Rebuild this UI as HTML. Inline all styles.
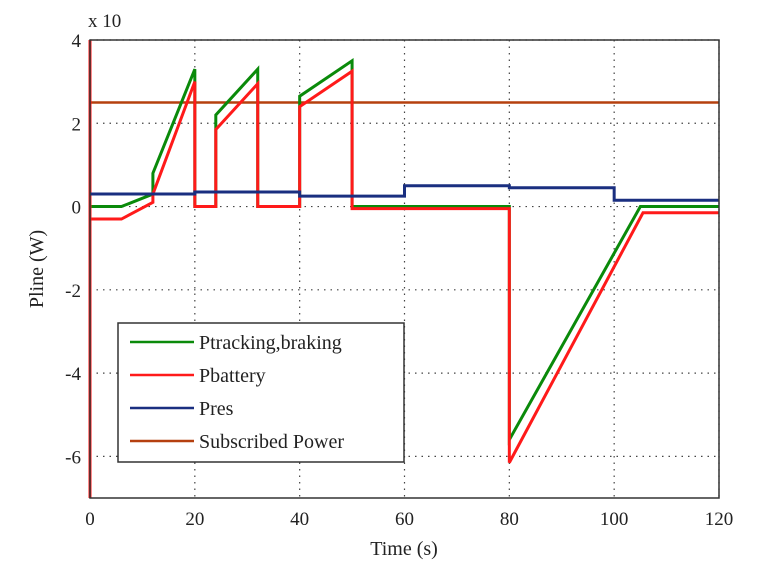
<!DOCTYPE html>
<html><head><meta charset="utf-8"><style>
body{margin:0;background:#fff;}
svg text{font-family:"Liberation Serif",serif;fill:#222;}
</style></head><body>
<svg id="c" width="759" height="572" xmlns="http://www.w3.org/2000/svg"></svg>
<script>
const xTicks=[0,20,40,60,80,100,120];
const yTicks=[4,2,0,-2,-4,-6];
const trackT=[0,6,12,12,20,20,24,24,32,32,40,40,50,50,80,80,105,120];
const trackV=[0,0,0.3,0.8,3.3,0,0,2.2,3.3,0,0,2.65,3.5,0,0,-5.6,0,0];
const battT=[0,0,0,6,12,12,20,20,24,24,32,32,40,40,50,50,80,80,105.5,120];
const battV=[4,-7,-0.3,-0.3,0.1,0.3,3.0,0,0,1.85,2.95,0,0,2.4,3.25,-0.05,-0.05,-6.15,-0.15,-0.15];
const resT=[0,20,20,40,40,60,60,80,80,100,100,120];
const resV=[0.3,0.3,0.35,0.35,0.25,0.25,0.5,0.5,0.45,0.45,0.15,0.15];
const subT=[0,120];
const subV=[2.5,2.5];
const L=90,R=719,T=40,B=498,X0=0,X1=120,Y0=-7,Y1=4;
const sx=v=>L+(v-X0)/(X1-X0)*(R-L);
const sy=v=>B-(v-Y0)/(Y1-Y0)*(B-T);
const svg=document.getElementById('c');
const NS='http://www.w3.org/2000/svg';
function mk(tag,a,p){const e=document.createElementNS(NS,tag);for(const k in a)e.setAttribute(k,a[k]);(p||svg).appendChild(e);return e;}
// grid
xTicks.forEach(t=>{
  const g=mk('line',{x1:sx(t),x2:sx(t),y1:T,y2:B,stroke:'#444','stroke-width':1.2,'stroke-dasharray':'1.5,5'});
  
  
  const tx=mk('text',{x:sx(t),y:B+27,'font-size':19,'text-anchor':'middle'});tx.textContent=t;
  
  
});
yTicks.forEach(t=>{
  const g=mk('line',{x1:L,x2:R,y1:sy(t),y2:sy(t),stroke:'#444','stroke-width':1.2,'stroke-dasharray':'1.5,5'});
  
  
  const tx=mk('text',{x:L-9,y:sy(t)+7,'font-size':19,'text-anchor':'end'});tx.textContent=t;
  
  
});
function series(ts,vs,col,name,w){
  const p=mk('polyline',{points:ts.map((t,i)=>sx(t)+','+sy(vs[i])).join(' '),fill:'none',stroke:col,'stroke-width':w,'stroke-linejoin':'miter'});
  
  
}
series(subT,subV,'#b5400f','subscribed-power-line',2.5);
series(trackT,trackV,'#0a8a0a','ptracking-line',3);
series(battT,battV,'#ff1a1a','pbattery-line',3);
series(resT,resV,'#1a2f80','pres-line',3);
const fr=mk('rect',{x:L,y:T,width:R-L,height:B-T,fill:'none',stroke:'#333','stroke-width':1.5});


// legend
const lg=mk('g',{});


mk('rect',{x:118,y:323,width:286,height:139,fill:'#fff',stroke:'#333','stroke-width':1.5},lg);
const names=['Ptracking,braking','Pbattery','Pres','Subscribed Power'];
const cols=['#0a8a0a','#ff1a1a','#1a2f80','#b5400f'];
names.forEach((n,i)=>{
  const y=342+i*33;
  const ln=mk('line',{x1:130,x2:194,y1:y,y2:y,stroke:cols[i],'stroke-width':2.5},lg);
  
  
  const tx=mk('text',{x:199,y:y+7,'font-size':20},lg);tx.textContent=n;
  
  
});
const xl=mk('text',{x:404,y:555,'font-size':20,'text-anchor':'middle'});xl.textContent='Time (s)';


const yl=mk('text',{x:0,y:0,'font-size':20,'text-anchor':'middle',transform:'translate(43,269) rotate(-90)'});yl.textContent='Pline (W)';


const ex=mk('text',{x:88,y:27,'font-size':19});ex.textContent='x 10';


</script>
</body></html>
